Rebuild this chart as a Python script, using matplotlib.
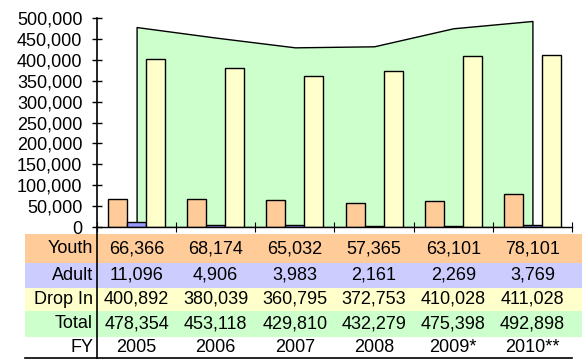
import matplotlib.pyplot as plt
import matplotlib.transforms as mtransforms
from matplotlib.patches import Rectangle
from matplotlib.lines import Line2D
import numpy as np

plt.rcParams['font.family'] = ['Liberation Sans', 'DejaVu Sans']

# Visits per fiscal year
years = ["2005", "2006", "2007", "2008", "2009*", "2010**"]
youth = [66366, 68174, 65032, 57365, 63101, 78101]
adult = [11096, 4906, 3983, 2161, 2269, 3769]
drop_in = [400892, 380039, 360795, 372753, 410028, 411028]
total = [478354, 453118, 429810, 432279, 475398, 492898]

W, H = 588, 360
fs = 13
fig = plt.figure(figsize=(W / 100, H / 100), dpi=100)

# plot area in pixel terms
left, right, top, base = 97, 572, 18, 227
ax = fig.add_axes([left / W, (H - base) / H, (right - left) / W, (base - top) / H])

x = np.arange(len(years))
ax.fill_between(x, total, color='#CCFFCC', edgecolor='black', linewidth=1, zorder=1)

bw = 0.24
ax.bar(x - bw, youth, bw, color='#FFCC99', edgecolor='black', linewidth=1, zorder=2)
ax.bar(x, adult, bw, color='#9999FF', edgecolor='black', linewidth=1, zorder=2)
ax.bar(x + bw, drop_in, bw, color='#FFFFCC', edgecolor='black', linewidth=1, zorder=2)

ax.set_xlim(-0.5, len(years) - 0.5)
ax.set_ylim(0, 500000)
ax.set_yticks(np.arange(0, 500001, 50000))
ax.yaxis.set_major_formatter(plt.FuncFormatter(lambda v, p: f"{int(v):,}"))
ax.set_xticks(np.arange(-0.5, len(years), 1))
ax.set_xticklabels([])
ax.tick_params(axis='y', direction='inout', length=7, width=1, labelsize=fs, pad=7)
ax.tick_params(axis='x', direction='inout', length=7, width=0.8)
for s in ['top', 'right']:
    ax.spines[s].set_visible(False)
ax.spines['left'].set_linewidth(1.2)
ax.spines['bottom'].set_linewidth(1)
ax.set_facecolor('none')

# data table under the chart
rows = [
    ("Youth", youth, '#FFCC99', 234, 263),
    ("Adult", adult, '#CCCCFF', 263, 288),
    ("Drop In", drop_in, '#FFFFCC', 288, 311),
    ("Total", total, '#CCFFCC', 311, 337),
]
tl, tr = 25, 582
trans = mtransforms.blended_transform_factory(ax.transData, fig.transFigure)
for name, vals, col, y0, y1 in rows:
    fig.add_artist(Rectangle((tl / W, (H - y1) / H), (tr - tl) / W, (y1 - y0) / H,
                             transform=fig.transFigure, facecolor=col, edgecolor='none', zorder=0))
    yc = (H - (y0 + y1) / 2) / H
    fig.text(93 / W, yc, name, ha='right', va='center', fontsize=fs)
    for xi, v in zip(x, vals):
        fig.text(xi, yc, f"{v:,}", ha='center', va='center', fontsize=fs, transform=trans)

yc = (H - 347.5) / H
fig.text(93 / W, yc, "FY", ha='right', va='center', fontsize=fs)
for xi, lab in zip(x, years):
    fig.text(xi, yc, lab, ha='center', va='center', fontsize=fs, transform=trans)

# column divider and bottom rule
fig.add_artist(Line2D([left / W, left / W], [(H - 358) / H, (H - base) / H],
                      transform=fig.transFigure, color='black', linewidth=1.2))
fig.add_artist(Line2D([tl / W, right / W], [(H - 358) / H, (H - 358) / H],
                      transform=fig.transFigure, color='black', linewidth=1.2))

fig.savefig("out.png", dpi=100)
